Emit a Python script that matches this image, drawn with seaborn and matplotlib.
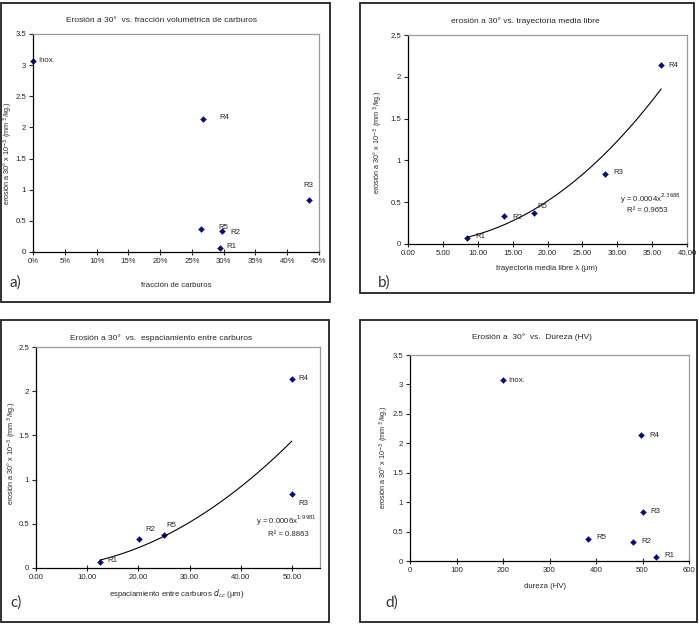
import numpy as np
import matplotlib
matplotlib.use("Agg")
import matplotlib.pyplot as plt
import seaborn as sns
from matplotlib.patches import Rectangle
from matplotlib.ticker import FuncFormatter

sns.set_style("white")
plt.rcParams['font.family'] = ['Liberation Sans', 'DejaVu Sans']

# erosion at 30 deg (x 10^-3 mm3/kg) for each material
materials = ["Inox.", "R1", "R2", "R3", "R4", "R5"]
erosion = [3.07, 0.07, 0.33, 0.84, 2.14, 0.37]

# a) carbide volume fraction (%)
carb_fraction = [0.0, 29.4, 29.8, 43.4, 26.7, 26.5]
# b) mean free path (um), alloys only
mfp_labels = ["R1", "R2", "R3", "R4", "R5"]
mean_free_path = [8.5, 13.7, 28.2, 36.3, 18.1]
mfp_erosion = [0.07, 0.33, 0.84, 2.14, 0.37]
# c) carbide spacing (um), alloys only
spacing = [12.5, 20.1, 50.0, 50.0, 25.0]
# d) hardness (HV)
hardness = [200, 530, 480, 500, 497, 382]

W, H = 699, 624
fig = plt.figure(figsize=(W / 100, H / 100), dpi=100)
navy = "#0a0a7a"
fs = 5.6


def px_axes(l, t, r, b):
    return fig.add_axes([l / W, 1 - b / H, (r - l) / W, (b - t) / H])


def frame(l, t, r, b):
    fig.patches.append(Rectangle((l / W, 1 - b / H), (r - l) / W, (b - t) / H,
                                 transform=fig.transFigure, fill=False,
                                 edgecolor="#222222", linewidth=1.3))


def ftext(x, y, s, **kw):
    fig.text(x / W, 1 - y / H, s, **kw)


def style(ax):
    for side in ["left", "bottom"]:
        ax.spines[side].set_color("black")
        ax.spines[side].set_linewidth(0.9)
    for side in ["top", "right"]:
        ax.spines[side].set_color("#9a9a9a")
        ax.spines[side].set_linewidth(0.9)
    ax.tick_params(axis="x", direction="inout", length=4, width=0.8,
                   labelsize=fs, pad=2, bottom=True)
    ax.tick_params(axis="y", direction="out", length=3, width=0.8,
                   labelsize=fs, pad=2, left=True)
    ax.set_xlabel("")
    ax.set_ylabel("")
    ax.grid(False)


def yfmt(v, _):
    return f"{v:g}"


def points(ax, x, y):
    sns.scatterplot(x=x, y=y, ax=ax, marker="D", s=9, color=navy,
                    edgecolor=navy, linewidth=0.3, clip_on=False, legend=False)


def label_pts(ax, x, y, names, offsets):
    for xi, yi, n in zip(x, y, names):
        dx, dy = offsets.get(n, (5, -1))
        ax.annotate(n, (xi, yi), xytext=(dx, dy), textcoords="offset points",
                    fontsize=fs, va="center", ha="left", annotation_clip=False)


def power_fit(ax, x, y):
    b, ln_a = np.polyfit(np.log(x), np.log(y), 1)
    xs = np.linspace(min(x), max(x), 100)
    sns.lineplot(x=xs, y=np.exp(ln_a) * xs ** b, ax=ax, color="black",
                 linewidth=0.8, legend=False)


ylab = "erosión a 30° x 10$^{-3}$ (mm $^3$/kg.)"
yfs = 5.2
tag = dict(fontsize=11, color="#333333", family="Lato", ha="left", va="center")

# ---- a) ----
frame(1, 3, 330, 302)
ax = px_axes(33, 34, 319, 252)
points(ax, carb_fraction, erosion)
label_pts(ax, carb_fraction, erosion, materials,
          {"Inox.": (4, 0), "R4": (12, 1), "R5": (12, 1), "R2": (6, -1),
           "R1": (5, 1), "R3": (-4, 10)})
ax.set_xlim(0, 45)
ax.set_ylim(0, 3.5)
ax.set_xticks(np.arange(0, 46, 5))
ax.xaxis.set_major_formatter(FuncFormatter(lambda v, _: f"{v:.0f}%"))
ax.set_yticks(np.arange(0, 3.6, 0.5))
ax.yaxis.set_major_formatter(FuncFormatter(yfmt))
style(ax)
ftext(161, 21, "Erosión a 30°  vs. fracción volumétrica de carburos",
      fontsize=6, ha="center", va="center")
ftext(176, 286, "fracción de carburos", fontsize=fs, ha="center", va="center")
ftext(8, 153, ylab, fontsize=yfs, rotation=90, ha="center", va="center")
ftext(10, 283, "a)", **tag)

# ---- b) ----
frame(360, 3, 694, 293)
ax = px_axes(408, 35, 687, 244)
power_fit(ax, mean_free_path, mfp_erosion)
points(ax, mean_free_path, mfp_erosion)
label_pts(ax, mean_free_path, mfp_erosion, mfp_labels,
          {"R1": (6, 1), "R2": (6, -1), "R5": (2, 5), "R3": (6, 1),
           "R4": (5, 0)})
ax.set_xlim(0, 40)
ax.set_ylim(0, 2.5)
ax.set_xticks(np.arange(0, 41, 5))
ax.xaxis.set_major_formatter(FuncFormatter(lambda v, _: f"{v:.2f}"))
ax.set_yticks(np.arange(0, 2.6, 0.5))
ax.yaxis.set_major_formatter(FuncFormatter(yfmt))
style(ax)
ax.text(0.98, 0.215, "y = 0.0004x$^{2.3688}$", transform=ax.transAxes,
        fontsize=fs, ha="right", va="center")
ax.text(0.93, 0.16, "R² = 0.9653", transform=ax.transAxes,
        fontsize=fs, ha="right", va="center")
ftext(525, 21, "erosión a 30° vs. trayectoria media libre",
      fontsize=6, ha="center", va="center")
ftext(547, 269, "trayectoria media libre λ (μm)", fontsize=fs,
      ha="center", va="center")
ftext(378, 142, ylab, fontsize=yfs, rotation=90, ha="center", va="center")
ftext(378, 283, "b)", **tag)

# ---- c) ----
frame(1, 320, 329, 622)
ax = px_axes(36, 347, 320, 568)
power_fit(ax, spacing, mfp_erosion)
points(ax, spacing, mfp_erosion)
label_pts(ax, spacing, mfp_erosion, mfp_labels,
          {"R1": (5, 1), "R2": (5, 7), "R5": (2, 7), "R3": (5, -7),
           "R4": (5, 0)})
ax.set_xlim(0, 55.5)
ax.set_ylim(0, 2.5)
ax.set_xticks(np.arange(0, 51, 10))
ax.xaxis.set_major_formatter(FuncFormatter(lambda v, _: f"{v:.2f}"))
ax.set_yticks(np.arange(0, 2.6, 0.5))
ax.yaxis.set_major_formatter(FuncFormatter(yfmt))
style(ax)
ax.text(0.99, 0.215, "y = 0.0006x$^{1.9981}$", transform=ax.transAxes,
        fontsize=fs, ha="right", va="center")
ax.text(0.96, 0.15, "R² = 0.8863", transform=ax.transAxes,
        fontsize=fs, ha="right", va="center")
ftext(161, 338, "Erosión a 30°  vs.  espaciamiento entre carburos",
      fontsize=6, ha="center", va="center")
ftext(177, 594, "espaciamiento entre carburos $d_{cc}$ (μm)", fontsize=fs,
      ha="center", va="center")
ftext(12, 453, ylab, fontsize=yfs, rotation=90, ha="center", va="center")
ftext(10, 603, "c)", **tag)

# ---- d) ----
frame(360, 320, 697, 622)
ax = px_axes(410, 355, 689, 561)
points(ax, hardness, erosion)
label_pts(ax, hardness, erosion, materials,
          {"Inox.": (4, 0), "R4": (6, 0), "R3": (6, 0), "R5": (6, 1),
           "R2": (6, 0), "R1": (6, 1)})
ax.set_xlim(0, 600)
ax.set_ylim(0, 3.5)
ax.set_xticks(np.arange(0, 601, 100))
ax.set_yticks(np.arange(0, 3.6, 0.5))
ax.yaxis.set_major_formatter(FuncFormatter(yfmt))
style(ax)
ftext(532, 337, "Erosión a  30°  vs.  Dureza (HV)",
      fontsize=6, ha="center", va="center")
ftext(545, 586, "dureza (HV)", fontsize=fs, ha="center", va="center")
ftext(384, 457, ylab, fontsize=yfs, rotation=90, ha="center", va="center")
ftext(385, 603, "d)", **tag)

fig.savefig("out.png", dpi=100)
